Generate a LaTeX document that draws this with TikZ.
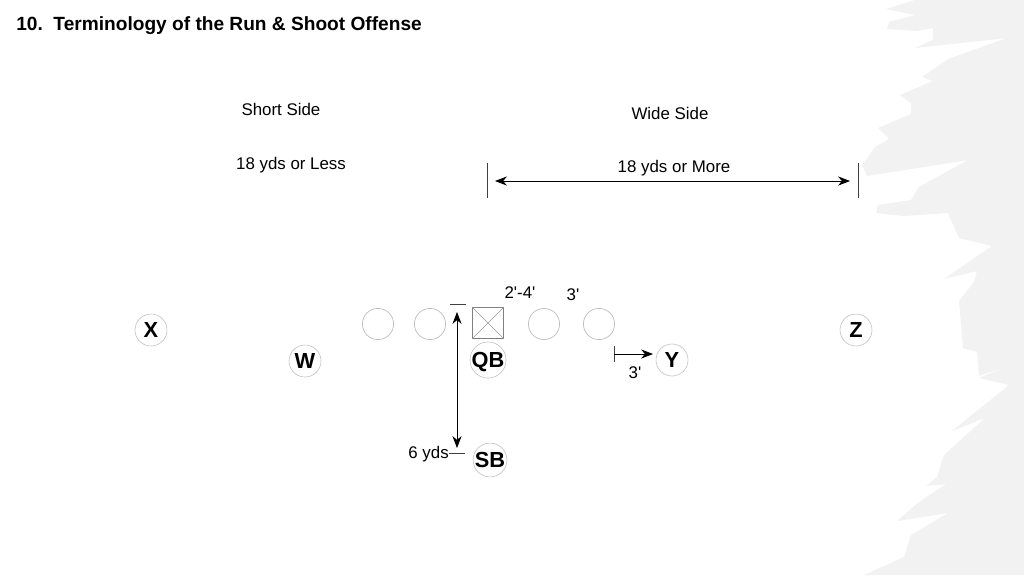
\documentclass[tikz,border=0pt]{standalone}
\usepackage{fontspec}
\setmainfont{Liberation Sans}[Ligatures=TeXOff]
\usetikzlibrary{arrows.meta}
\begin{document}
\begin{tikzpicture}[x=0.025cm,y=-0.025cm,
 player/.style={circle,draw=black!25,fill=white,minimum size=0.8cm,inner sep=0pt,text depth=0pt,font=\fontsize{15.5}{15.5}\selectfont\bfseries},
 lineman/.style={circle,draw=black!25,line width=0.5pt,minimum size=0.78cm,inner sep=0pt},
 lbl/.style={font=\fontsize{12}{14}\selectfont,inner sep=0pt},
 tickline/.style={draw=black!75,line width=0.5pt},
 arr/.style={line width=0.55pt,-{Stealth[length=8.5pt,width=6.5pt]}},
 darr/.style={line width=0.55pt,{Stealth[length=8.5pt,width=6.5pt]}-{Stealth[length=8.5pt,width=6.5pt]}},
]
\useasboundingbox (0,0) rectangle (1024,575);
\fill[white] (0,0) rectangle (1024,575);
% torn grey edge
\fill[black!5] (915,0) -- (886,9) -- (915,15) -- (889,22) -- (887,29) -- (917,31) -- (933,28) -- (933,40) -- (915,48) -- (1007,38) -- (948,59) -- (922,77) -- (933,81) -- (900,95) -- (911,103) -- (911,114) -- (878,128) -- (889,139) -- (875,147) -- (862,165) -- (867,176) -- (968,160) -- (919,187) -- (911,200) -- (878,205) -- (876,213) -- (904,216) -- (948,213) -- (959,238) -- (992,246) -- (944,279) -- (977,271) -- (974,282) -- (959,301) -- (963,348) -- (977,352) -- (979,376) -- (1005,367) -- (979,378) -- (1009,385) -- (952,431) -- (985,418) -- (944,455) -- (937,477) -- (926,486) -- (946,484) -- (919,502) -- (897,521) -- (948,513) -- (911,535) -- (904,557) -- (864,575) -- (1024,575) -- (1024,0) -- cycle;

% title
\node[anchor=west,inner sep=0pt,font=\fontsize{13.6}{16}\selectfont\bfseries] (title) at (16,26) {10.\ \ Terminology of the Run \& Shoot Offense};

% top labels
\node[lbl] (short) at (281,109) {Short Side};
\node[lbl] (less) at (291,165) {18 yds or Less};
\node[lbl] (wide) at (670,113) {Wide Side};
\node[lbl] (more) at (674,168) {18 yds or More};

% wide side dimension
\coordinate (wl1) at (487,163); \coordinate (wl2) at (487,198);
\coordinate (wr1) at (858,163); \coordinate (wr2) at (858,198);
\draw[tickline] (wl1) -- (wl2);
\draw[tickline] (wr1) -- (wr2);
\coordinate (wa) at (495,181); \coordinate (wb) at (850,181);
\draw[darr] (wa) -- (wb);

% line
\node[lineman] (lt) at (378,324) {};
\node[lineman] (lg) at (430,324) {};
\node[draw=black!50,line width=0.6pt,minimum size=0.76cm,inner sep=0pt] (c) at (488,323) {};
\draw[black!40,line width=0.4pt] (c.north west) -- (c.south east) (c.north east) -- (c.south west);
\node[lineman] (rg) at (544,324) {};
\node[lineman] (rt) at (599,324) {};

% players
\node[player] (X) at (151,330) {X};
\node[player] (W) at (305,361) {W};
\node[player] (QB) at (488,360) {QB};
\node[player] (Y) at (672,360) {Y};
\node[player] (Z) at (856,330) {Z};
\node[player] (SB) at (490,460) {SB};

% split labels
\node[lbl] (s24) at (520,293) {2'-4'};
\node[lbl] (s3) at (573,295) {3'};

% depth arrow
\coordinate (tt1) at (450,304); \coordinate (tt2) at (466,304);
\draw[tickline] (tt1) -- (tt2);
\coordinate (dtop) at (457,312); \coordinate (dbot) at (457,448);
\draw[darr] (dbot) -- (dtop);
\node[lbl,anchor=east] (six) at (449,454) {6 yds};
\coordinate (bt2) at (465,453);
\draw[tickline] (449,453) -- (bt2);

% Y split
\coordinate (yt1) at (614,346); \coordinate (yt2) at (614,362);
\draw[tickline] (yt1) -- (yt2);
\coordinate (ys) at (614,354); \coordinate (ye) at (653,354);
\draw[arr] (ys) -- (ye);
\node[lbl] (y3) at (635,373) {3'};
\end{tikzpicture}
\end{document}
